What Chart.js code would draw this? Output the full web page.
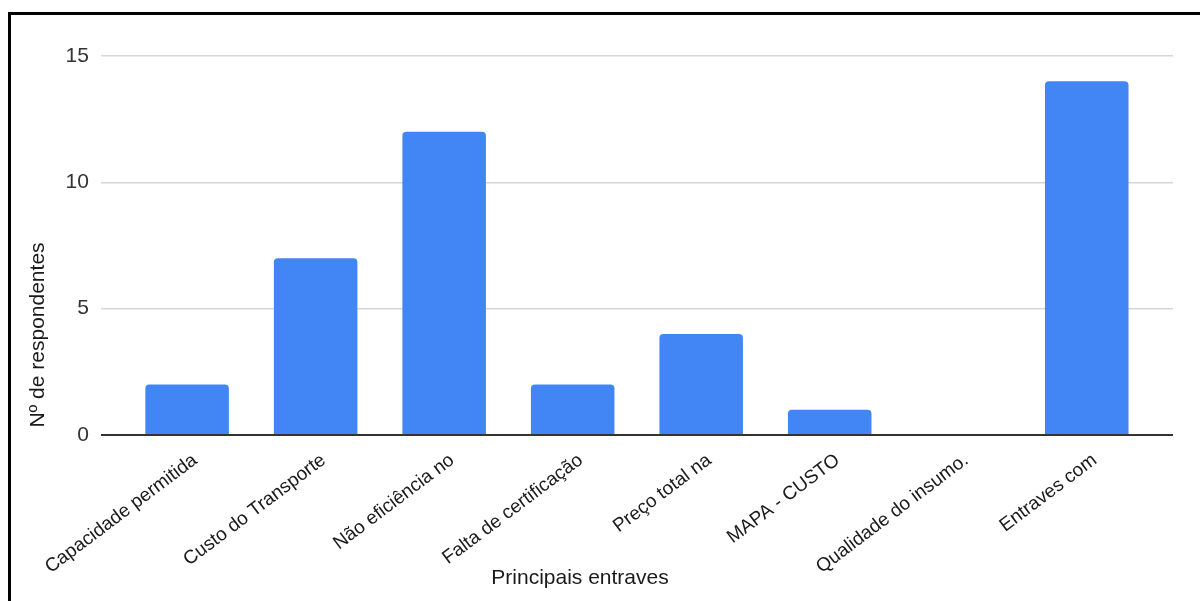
<!DOCTYPE html>
<html>
<head>
<meta charset="utf-8">
<script src="https://cdn.jsdelivr.net/npm/chart.js@4.4.0/dist/chart.umd.min.js"></script>
<style>
  html, body { margin: 0; padding: 0; background: #fff; overflow: hidden; }
  #wrap { position: relative; width: 1200px; height: 601px; }
  #frame { position: absolute; left: 8px; top: 12px; width: 1300px; height: 700px;
           border: 3px solid #000; pointer-events: none; }
</style>
</head>
<body>
<div id="wrap">
  <canvas id="myChart" width="1200" height="601"></canvas>
  <div id="frame"></div>
</div>
<script>
"use strict";
const categories = [
  "Capacidade permitida",
  "Custo do Transporte",
  "Não eficiência no",
  "Falta de certificação",
  "Preço total na",
  "MAPA - CUSTO",
  "Qualidade do insumo.",
  "Entraves com"
];
const respondents = [2, 7, 12, 2, 4, 1, 0, 14];
const yTicks = [0, 5, 10, 15];
const xTitle = "Principais entraves";
const yTitle = "Nº de respondentes";

const fontFamily = "'Liberation Sans', Arial, sans-serif";

// category band is narrower than the grid lines, like in the original
const insetX = {
  id: "insetX",
  afterLayout(chart) {
    const x = chart.scales.x;
    x.left += 22;
    x.right -= 22;
    x.width = x.right - x.left;
    x.configure();
  }
};

// axis titles sit off-centre in the original, so they are drawn here
const axisTitles = {
  id: "axisTitles",
  afterDraw(chart) {
    const ctx = chart.ctx;
    ctx.save();
    ctx.fillStyle = "#1a1a1a";
    ctx.font = "21px " + fontFamily;
    ctx.textAlign = "center";
    ctx.textBaseline = "middle";
    ctx.fillText(xTitle, 580, 578);
    ctx.translate(38, 335);
    ctx.rotate(-Math.PI / 2);
    ctx.fillText(yTitle, 0, 0);
    ctx.restore();
  }
};

const ctx = document.getElementById("myChart").getContext("2d");
const myChart = new Chart(ctx, {
  type: "bar",
  data: {
    labels: categories,
    datasets: [
      {
        label: yTitle,
        data: respondents,
        backgroundColor: "#4285F4",
        borderRadius: 4,
        borderSkipped: "start",
        categoryPercentage: 1,
        barPercentage: 0.65
      }
    ]
  },
  options: {
    responsive: false,
    animation: false,
    devicePixelRatio: 1,
    layout: { padding: { top: 56, right: 27, left: 0, bottom: 0 } },
    plugins: {
      legend: { display: false },
      tooltip: { enabled: false }
    },
    scales: {
      x: {
        grid: { display: false, drawTicks: false },
        border: { display: false },
        ticks: {
          autoSkip: false,
          minRotation: 37,
          maxRotation: 37,
          padding: 14,
          labelOffset: 8,
          color: "#1a1a1a",
          font: { size: 19, family: fontFamily }
        },
        afterFit(scale) { scale.height = 166; }
      },
      y: {
        min: 0,
        max: 15,
        afterBuildTicks(scale) {
          scale.ticks = yTicks.map(v => ({ value: v }));
        },
        grid: {
          drawTicks: false,
          color: c => (c.tick && c.tick.value === 0 ? "#333" : "#d6d6d6"),
          lineWidth: c => (c.tick && c.tick.value === 0 ? 2 : 1.5)
        },
        border: { display: false },
        ticks: {
          padding: 12,
          color: "#333",
          font: { size: 21, family: fontFamily }
        },
        afterFit(scale) { scale.width = 100; }
      }
    }
  },
  plugins: [insetX, axisTitles]
});
</script>
</body>
</html>
